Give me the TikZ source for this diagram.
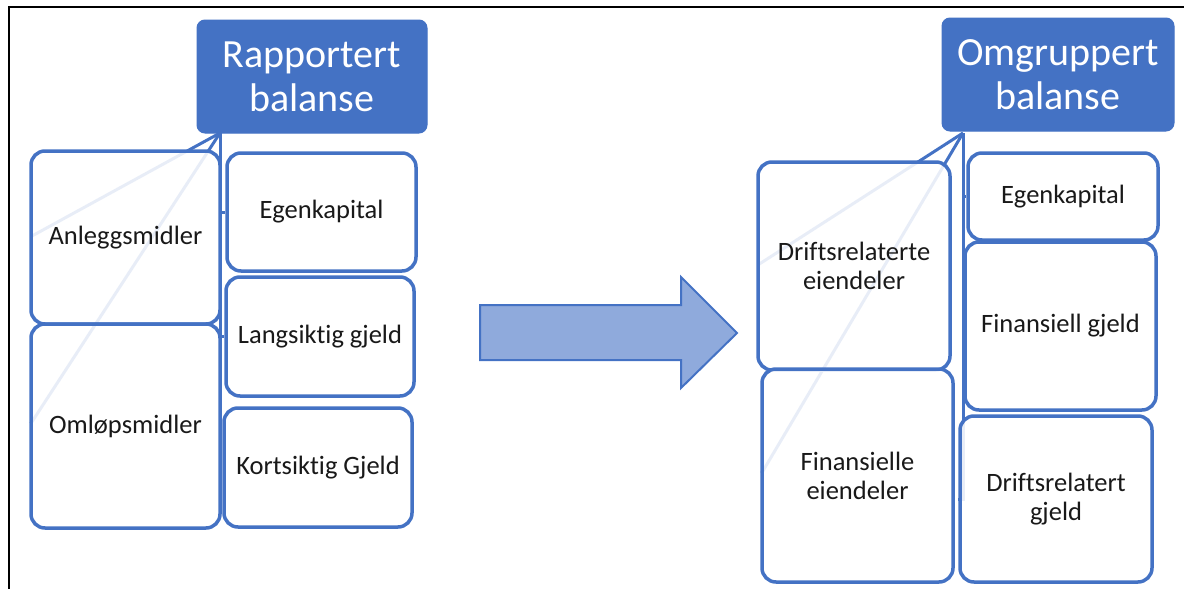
\documentclass[tikz,border=0pt]{standalone}
\usepackage{fontspec}
\setmainfont{Carlito}[Ligatures=NoCommon]
\usetikzlibrary{backgrounds}
\definecolor{accent}{HTML}{4472C4}
\definecolor{arrowfill}{HTML}{8FAADC}
\tikzset{
  headbox/.style={fill=accent, draw=accent, line width=1pt, rounded corners=8pt,
    text=white, inner sep=0pt, align=center,
    font=\fontsize{40}{44}\selectfont},
  itembox/.style={draw=accent, line width=3.5pt, rounded corners=14pt,
    fill=white, fill opacity=0.88, text opacity=1, text=black!90,
    inner sep=0pt, align=center, font=\fontsize{26.5}{29}\selectfont},
  link/.style={draw=accent, line width=3pt},
}
\begin{document}
\begin{tikzpicture}[x=1pt, y=-1pt]
\useasboundingbox (0,0) rectangle (1184,589);

% outer frame (top and left edge)
\draw[black, line width=1.5pt] (9,589) -- (9,7) -- (1184,7);

% ---- reported balance sheet ----
\node[headbox, minimum width=230pt, minimum height=113pt] (titL) at (312,76.5) {Rapportert\\balanse};
\node[itembox, minimum width=189pt, minimum height=173pt] (anl)  at (125.5,237.5) {Anleggsmidler};
\node[itembox, minimum width=189pt, minimum height=204pt] (oml)  at (125.5,426) {Omløpsmidler};
\node[itembox, minimum width=189pt, minimum height=118pt] (ekL)  at (321.5,212) {Egenkapital};
\node[itembox, minimum width=188pt, minimum height=119pt] (lang) at (320,336.5) {Langsiktig gjeld};
\node[itembox, minimum width=188pt, minimum height=119pt] (kort) at (318,467.5) {Kortsiktig Gjeld};
\coordinate (apL) at (220,133);

% ---- regrouped balance sheet ----
\node[headbox, minimum width=232pt, minimum height=113pt] (titR) at (1058,74.5) {Omgruppert\\balanse};
\node[itembox, minimum width=192pt, minimum height=208pt] (drE)  at (854,266) {Driftsrelaterte\\eiendeler};
\node[itembox, minimum width=191pt, minimum height=213pt] (finE) at (857.5,475.5) {Finansielle\\eiendeler};
\node[itembox, minimum width=190pt, minimum height=87pt]  (ekR)  at (1063,196.5) {Egenkapital};
\node[itembox, minimum width=191pt, minimum height=168pt] (finG) at (1060.5,326) {Finansiell gjeld};
\node[itembox, minimum width=192pt, minimum height=166pt] (drG)  at (1056,499) {Driftsrelatert\\gjeld};
\coordinate (apR) at (963,133);

% hierarchy connectors, drawn behind the boxes
\begin{scope}[on background layer]
  \draw[link, shorten >=3pt] (apL) -- (anl.west);
  \draw[link, shorten >=3pt] (apL) -- (oml.west);
  \draw[link] (apL) |- (ekL.west);
  \draw[link] (apL) |- (lang.west);
  \draw[link] (apL) |- (kort.west);
  \draw[link, shorten >=3pt] (apR) -- (drE.west);
  \draw[link, shorten >=3pt] (apR) -- (finE.west);
  \draw[link] (apR) |- (ekR.west);
  \draw[link] (apR) |- (finG.west);
  \draw[link] (apR) |- (drG.west);
\end{scope}

% block arrow between the two balance sheets
\draw[fill=arrowfill, draw=accent, line width=2pt, line join=miter]
  (480,305) -- (681,305) -- (681,277) -- (737,333) -- (681,388) -- (681,360) -- (480,360) -- cycle;
\end{tikzpicture}
\end{document}
